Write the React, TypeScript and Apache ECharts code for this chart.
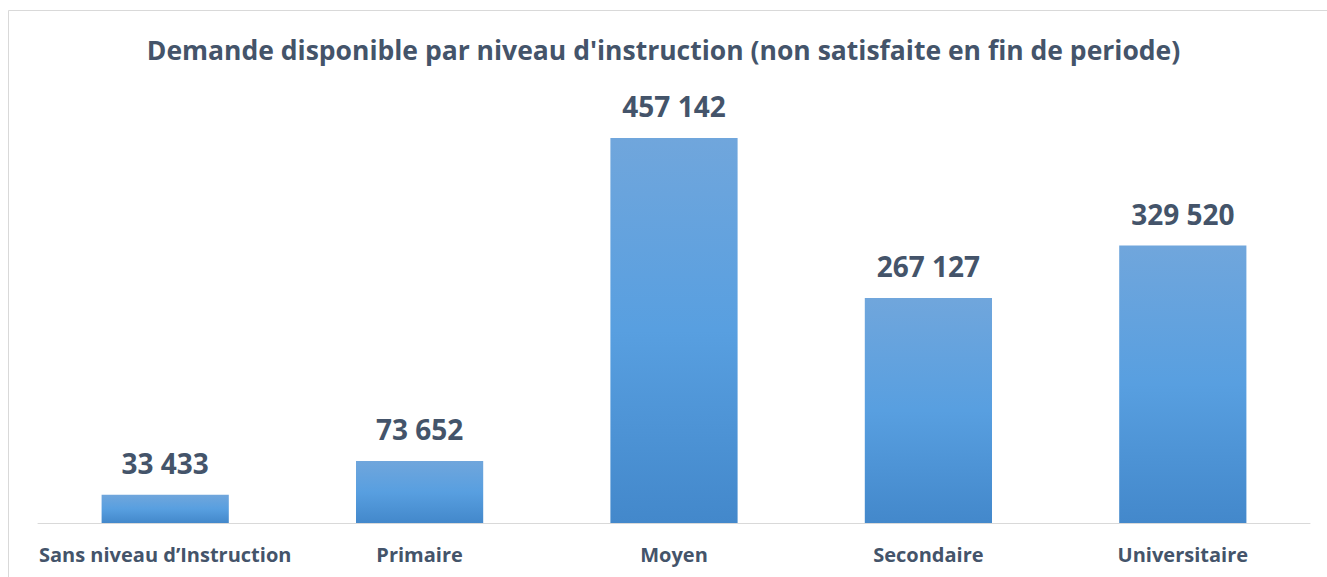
import React, { useEffect, useRef } from "react";
import * as echarts from "echarts";

const categories = ["Sans niveau d\u2019Instruction", "Primaire", "Moyen", "Secondaire", "Universitaire"];
const values = [33433, 73652, 457142, 267127, 329520];
const titleText = "Demande disponible par niveau d'instruction (non satisfaite en fin de periode)";

const fmt = (v: number) => String(v).replace(/\B(?=(\d{3})+(?!\d))/g, " ");

export default function App() {
  const ref = useRef<HTMLDivElement>(null);
  useEffect(() => {
    const chart = echarts.init(ref.current!, null, { renderer: "svg" });
    const textColor = "#44546A";
    const font = "'Open Sans', 'Noto Sans', sans-serif";
    chart.setOption({
      animation: false,
      backgroundColor: "#ffffff",
      title: {
        text: titleText,
        left: "center",
        top: 31,
        textStyle: { color: textColor, fontSize: 26.5, fontWeight: "bold", fontFamily: font },
      },
      graphic: [
        {
          type: "rect",
          shape: { x: 8.5, y: 10.5, width: 1400, height: 700 },
          style: { fill: "none", stroke: "#D9D9D9", lineWidth: 1 },
          silent: true,
        },
      ],
      grid: { left: 38, right: 17, top: 102, bottom: 54, containLabel: false },
      xAxis: {
        type: "category",
        data: categories,
        axisLine: { show: true, lineStyle: { color: "#D9D9D9", width: 1 } },
        axisTick: { show: false },
        axisLabel: {
          color: textColor,
          fontSize: 20,
          fontWeight: "bold",
          fontFamily: font,
          margin: 21,
          interval: 0,
        },
      },
      yAxis: {
        type: "value",
        min: 0,
        max: 500000,
        show: false,
        splitLine: { show: false },
      },
      series: [
        {
          type: "bar",
          data: values,
          barWidth: "50%",
          itemStyle: {
            color: new echarts.graphic.LinearGradient(0, 0, 0, 1, [
              { offset: 0, color: "#70A6DC" },
              { offset: 0.5, color: "#589FE0" },
              { offset: 1, color: "#4388CB" },
            ]),
          },
          label: {
            show: true,
            position: "top",
            distance: 18,
            color: textColor,
            fontSize: 28,
            fontWeight: "bold",
            fontFamily: font,
            formatter: (p: any) => fmt(p.value),
          },
        },
      ],
    });
    return () => chart.dispose();
  }, []);
  return <div ref={ref} style={{ position: "fixed", left: 0, top: 0, width: 1327, height: 577 }} />;
}
